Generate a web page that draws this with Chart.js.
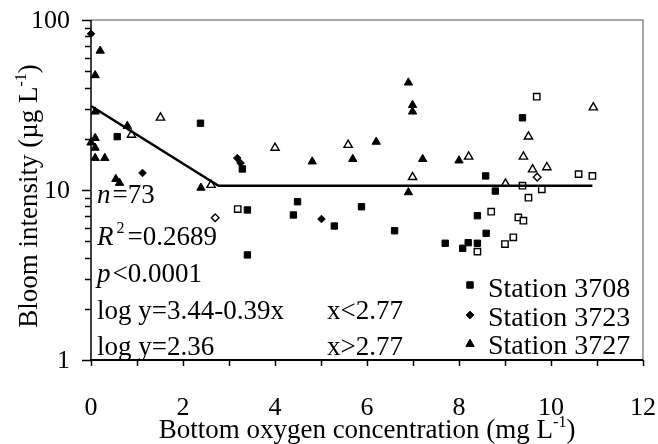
<!DOCTYPE html>
<html>
<head>
<meta charset="utf-8">
<script src="https://cdn.jsdelivr.net/npm/chart.js@4.4.1/dist/chart.umd.min.js"></script>
<style>
  html, body { margin: 0; padding: 0; background: #fff; }
  #c { display: block; }
</style>
</head>
<body>
<canvas id="c" width="658" height="444"></canvas>
<script>
// Bloom intensity vs. bottom oxygen, three stations (solid / open symbols)
const st3708SolidX = [0.57, 2.38, 3.29, 3.40, 3.40, 4.40, 4.49, 5.29, 5.88, 6.60, 7.70, 8.08, 8.20, 8.40, 8.40, 8.58, 8.59, 8.79, 9.38];
const st3708SolidY = [20.6, 24.7, 13.3, 7.63, 4.15, 7.13, 8.53, 6.14, 7.97, 5.76, 4.86, 4.54, 4.90, 4.86, 7.06, 12.1, 5.56, 9.86, 26.6];
const st3708OpenX  = [3.19, 8.40, 8.70, 9.00, 9.18, 9.29, 9.38, 9.40, 9.51, 9.69, 9.80, 10.60, 10.90];
const st3708OpenY  = [7.73, 4.34, 7.45, 4.81, 5.27, 6.90, 10.6, 6.60, 9.01, 35.4, 10.1, 12.4, 12.1];

const st3723SolidX = [0.00, 1.12, 3.18, 3.25, 5.01];
const st3723SolidY = [83.0, 12.6, 15.4, 14.4, 6.75];
const st3723OpenX  = [2.70, 9.70];
const st3723OpenY  = [6.87, 11.9];

const st3727SolidX = [0.00, 0.09, 0.09, 0.09, 0.09, 0.09, 0.20, 0.30, 0.54, 0.62, 0.79, 2.39, 4.81, 5.69, 6.20, 6.90, 6.90, 6.99, 6.99, 7.21, 8.00];
const st3727SolidY = [19.0, 47.3, 28.9, 20.2, 17.7, 15.4, 65.9, 15.4, 11.6, 11.0, 23.8, 10.3, 14.7, 15.2, 19.2, 42.8, 9.69, 31.6, 28.9, 15.2, 14.9];
const st3727OpenX  = [0.88, 1.51, 2.61, 4.00, 5.59, 6.99, 8.21, 9.01, 9.40, 9.51, 9.60, 9.91, 10.92];
const st3727OpenY  = [21.1, 26.6, 10.7, 17.7, 18.4, 11.9, 15.7, 10.9, 15.7, 20.6, 13.2, 13.6, 30.6];

// Piecewise fit: ln y = a + b·x below the breakpoint, constant above it
const fitA = 3.44, fitB = -0.39, fitBreak = 2.77, fitLevel = 2.36, fitEndX = 10.9;

const stationLabels = ['Station 3708', 'Station 3723', 'Station 3727'];
const xTickLabels = ['0', '2', '4', '6', '8', '10', '12'];
const yTickLabels = ['1', '10', '100'];

const SERIF = '"Liberation Serif", "Times New Roman", serif';

function pts(xs, ys) { return xs.map((x, i) => ({ x: x, y: ys[i] })); }

const fitLine = [
  { x: 0, y: Math.exp(fitA) },
  { x: fitBreak, y: Math.exp(fitA + fitB * fitBreak) },
  { x: fitEndX, y: Math.exp(fitLevel) }
];

function solid(label, data, style, r) {
  return { label, data, pointStyle: style, pointRadius: r, pointHoverRadius: r,
           backgroundColor: '#000', borderColor: '#000', borderWidth: 1, clip: false };
}
function open(label, data, style, r) {
  return { label, data, pointStyle: style, pointRadius: r, pointHoverRadius: r,
           backgroundColor: '#fff', borderColor: '#000', borderWidth: 1.4, clip: false };
}

function richWidth(ctx, runs) {
  let w = 0;
  for (const r of runs) { ctx.font = r.font; w += ctx.measureText(r.t).width + (r.gap || 0); }
  return w;
}
function drawRich(ctx, runs, x, y) {
  let cx = x;
  for (const r of runs) {
    ctx.font = r.font;
    ctx.fillText(r.t, cx, y - (r.rise || 0));
    cx += ctx.measureText(r.t).width + (r.gap || 0);
  }
}

const frameAndText = {
  id: 'frameAndText',
  beforeDatasetsDraw(chart) {
    const { ctx, chartArea: a, scales } = chart;
    const xs = scales.x, ys = scales.y;
    ctx.save();
    // top and right frame
    ctx.strokeStyle = '#8a8a8a';
    ctx.lineWidth = 1.5;
    ctx.beginPath();
    ctx.moveTo(a.left, a.top); ctx.lineTo(a.right, a.top); ctx.lineTo(a.right, a.bottom);
    ctx.stroke();
    // axes
    ctx.strokeStyle = '#000';
    ctx.lineWidth = 1.5;
    ctx.beginPath(); ctx.moveTo(a.left, a.top); ctx.lineTo(a.left, a.bottom); ctx.stroke();
    ctx.lineWidth = 2;
    ctx.beginPath(); ctx.moveTo(a.left - 1, a.bottom); ctx.lineTo(a.right, a.bottom); ctx.stroke();
    // x ticks, every unit
    ctx.lineWidth = 1.5;
    for (let v = 0; v <= 12; v++) {
      const px = Math.round(xs.getPixelForValue(v)) + 0.5;
      ctx.beginPath(); ctx.moveTo(px, a.bottom); ctx.lineTo(px, a.bottom + 6); ctx.stroke();
    }
    // y ticks, decades and minor steps
    for (let d = 1; d <= 100; d *= 10) {
      for (let m = 1; m <= 9; m++) {
        const v = d * m;
        if (v > 100) break;
        const py = Math.round(ys.getPixelForValue(v)) + 0.5;
        ctx.beginPath();
        ctx.moveTo(a.left - (m === 1 ? 9 : 6), py); ctx.lineTo(a.left, py);
        ctx.stroke();
      }
    }
    ctx.restore();
  },
  afterDraw(chart) {
    const { ctx, chartArea: a, scales } = chart;
    const xs = scales.x, ys = scales.y;
    ctx.save();
    ctx.fillStyle = '#000';
    ctx.textBaseline = 'alphabetic';

    // tick labels
    ctx.font = '26px ' + SERIF;
    ctx.textAlign = 'center';
    xTickLabels.forEach(t => ctx.fillText(t, xs.getPixelForValue(parseFloat(t)), 415));
    ctx.textAlign = 'right';
    ctx.textBaseline = 'middle';
    yTickLabels.forEach(t => ctx.fillText(t, 70, ys.getPixelForValue(parseFloat(t)) + 1));
    ctx.textBaseline = 'alphabetic';
    ctx.textAlign = 'left';

    const big = '27px ' + SERIF, sup = '16px ' + SERIF;
    const ital = 'italic 27px ' + SERIF;

    // axis titles
    const xTitle = [
      { t: 'Bottom oxygen concentration (mg L', font: big },
      { t: '-1', font: sup, rise: 11 },
      { t: ')', font: big }
    ];
    const xw = richWidth(ctx, xTitle);
    drawRich(ctx, xTitle, 367 - xw / 2, 438);

    const yTitle = [
      { t: 'Bloom intensity (\u00b5g L', font: big },
      { t: '-1', font: sup, rise: 11 },
      { t: ')', font: big }
    ];
    const yw = richWidth(ctx, yTitle);
    ctx.save();
    ctx.translate(37, 196);
    ctx.rotate(-Math.PI / 2);
    drawRich(ctx, yTitle, -yw / 2, 0);
    ctx.restore();

    // fit statistics
    const tx = 97;
    drawRich(ctx, [{ t: 'n', font: ital, gap: 2 }, { t: '=73', font: big }], tx, 203);
    drawRich(ctx, [{ t: 'R', font: ital, gap: 3 }, { t: '2', font: sup, rise: 12, gap: 3 }, { t: '=0.2689', font: big }], tx, 245);
    drawRich(ctx, [{ t: 'p', font: ital, gap: 2 }, { t: '<0.0001', font: big }], tx, 282);
    drawRich(ctx, [{ t: 'log y=3.44-0.39x', font: big }], tx, 319);
    drawRich(ctx, [{ t: 'log y=2.36', font: big }], tx, 355);
    drawRich(ctx, [{ t: 'x<2.77', font: big }], 327, 319);
    drawRich(ctx, [{ t: 'x>2.77', font: big }], 327, 355);

    // legend
    const styles = [['rect', 4.5], ['rectRot', 3.8], ['triangle', 4.8]];
    const rowsY = [285, 315, 344];
    const baseY = [297, 326, 354];
    ctx.font = '28px ' + SERIF;
    stationLabels.forEach((lab, i) => {
      ctx.fillStyle = '#000';
      ctx.strokeStyle = '#000';
      ctx.lineWidth = 1;
      Chart.helpers.drawPoint(ctx, { pointStyle: styles[i][0], radius: styles[i][1], rotation: 0, borderWidth: 1 }, 470, rowsY[i]);
      ctx.fill();
      ctx.font = '28px ' + SERIF;
      ctx.fillText(lab, 488, baseY[i]);
    });
    ctx.restore();
  }
};

new Chart(document.getElementById('c'), {
  type: 'scatter',
  data: {
    datasets: [
      { type: 'line', label: 'fit', data: fitLine, borderColor: '#000', borderWidth: 2.5,
        pointRadius: 0, fill: false, tension: 0, clip: false },
      solid(stationLabels[0], pts(st3708SolidX, st3708SolidY), 'rect', 4.5),
      open(stationLabels[0] + ' (open)', pts(st3708OpenX, st3708OpenY), 'rect', 4.5),
      solid(stationLabels[1], pts(st3723SolidX, st3723SolidY), 'rectRot', 3.8),
      open(stationLabels[1] + ' (open)', pts(st3723OpenX, st3723OpenY), 'rectRot', 3.8),
      solid(stationLabels[2], pts(st3727SolidX, st3727SolidY), 'triangle', 4.8),
      open(stationLabels[2] + ' (open)', pts(st3727OpenX, st3727OpenY), 'triangle', 4.8)
    ]
  },
  options: {
    responsive: false,
    animation: false,
    devicePixelRatio: 1,
    layout: { padding: { left: 0, top: 20, right: 15, bottom: 0 } },
    plugins: { legend: { display: false }, tooltip: { enabled: false } },
    scales: {
      x: {
        type: 'linear', min: 0, max: 12,
        grid: { display: false, drawTicks: false }, border: { display: false },
        ticks: { display: false },
        afterFit(s) { s.height = 84; }
      },
      y: {
        type: 'logarithmic', min: 1, max: 100,
        grid: { display: false, drawTicks: false }, border: { display: false },
        ticks: { display: false },
        afterFit(s) { s.width = 91; }
      }
    }
  },
  plugins: [frameAndText]
});
</script>
</body>
</html>
